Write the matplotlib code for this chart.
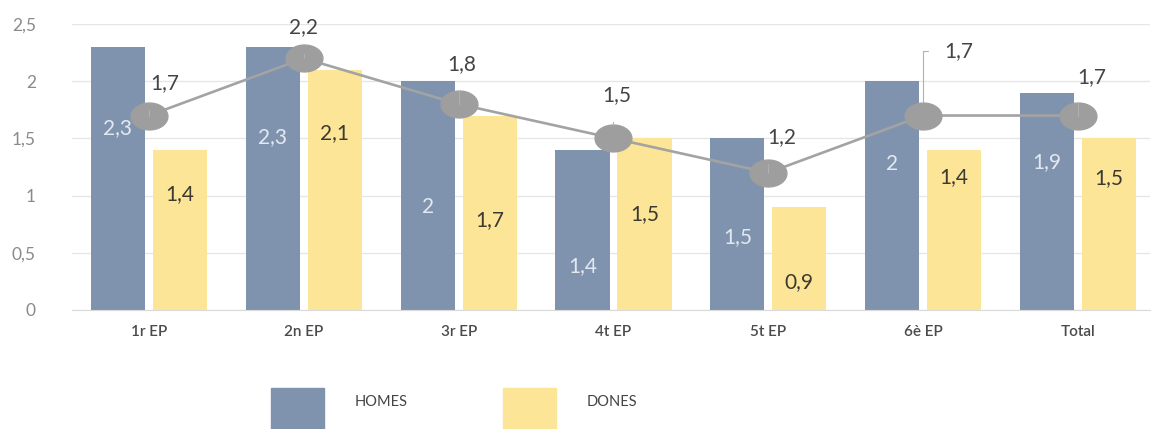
import numpy as np
import matplotlib
matplotlib.use("Agg")
import matplotlib.pyplot as plt
from matplotlib.path import Path
from matplotlib.patches import Rectangle

# data
categories = ["1r EP", "2n EP", "3r EP", "4t EP", "5t EP", "6è EP", "Total"]
homes = [2.3, 2.3, 2.0, 1.4, 1.5, 2.0, 1.9]
dones = [1.4, 2.1, 1.7, 1.5, 0.9, 1.4, 1.5]
mitjana = [1.7, 2.2, 1.8, 1.5, 1.2, 1.7, 1.7]
yticks = [0, 0.5, 1, 1.5, 2, 2.5]

# hand placed label positions (data units), as in the original
homes_lab_y = [1.59, 1.51, 0.90, 0.38, 0.64, 1.28, 1.29]
dones_lab_y = [1.01, 1.55, 0.79, 0.84, 0.24, 1.16, 1.15]
line_lab_dx = [0.10, 0.0, 0.02, 0.02, 0.09, 0.23, 0.09]
line_lab_y = [1.98, 2.47, 2.15, 1.88, 1.51, 2.26, 2.04]

c_homes = "#7F93AE"
c_dones = "#FDE597"
c_line = "#A3A3A3"
font = "Lato"

def fmt(v):
    return f"{v:g}".replace(".", ",")

plt.rcParams["font.family"] = [font, "DejaVu Sans"]

fig = plt.figure(figsize=(11.55, 4.29), dpi=100)
ax = fig.add_axes([72 / 1155, 119 / 429, 1078 / 1155, 286 / 429])

x = np.arange(len(categories))
w = 0.35
ax.bar(x - 0.2, homes, w, color=c_homes, zorder=2)
ax.bar(x + 0.2, dones, w, color=c_dones, zorder=2)

# elliptic marker
t = np.linspace(0, 2 * np.pi, 60)
ell = Path(np.column_stack([1.37 * np.cos(t), np.sin(t)]), closed=True)
ax.plot(x, mitjana, color=c_line, lw=1.9, marker=ell, markersize=26.5,
        markerfacecolor="#9E9E9E", markeredgecolor="#9E9E9E", zorder=4)

for i in range(len(x)):
    ax.text(x[i] - 0.2, homes_lab_y[i], fmt(homes[i]), ha="center", va="center",
            fontsize=15, color="#E4E9F1", zorder=5)
    ax.text(x[i] + 0.2, dones_lab_y[i], fmt(dones[i]), ha="center", va="center",
            fontsize=15, color="#3B3A30", zorder=5)
    ax.annotate(fmt(mitjana[i]), xy=(x[i], mitjana[i]),
                xytext=(x[i] + line_lab_dx[i], line_lab_y[i]),
                ha="center", va="center", fontsize=15, color="#444444",
                zorder=5,
                arrowprops=dict(arrowstyle="-", color="#B0B0B0", lw=0.8,
                                shrinkA=10, shrinkB=10,
                                connectionstyle="angle,angleA=0,angleB=90,rad=0"))

ax.set_xlim(-0.497, 6.465)
ax.set_ylim(0, 2.5)
ax.set_yticks(yticks)
ax.set_yticklabels([fmt(v) for v in yticks], fontsize=12.5, color="#8A8A8A")
ax.set_xticks(x)
ax.set_xticklabels(categories, fontsize=11, color="#4A4A4A", fontweight="semibold")
ax.tick_params(axis="y", length=0, pad=26)
ax.tick_params(axis="x", length=0, pad=11)
ax.grid(axis="y", color="#E6E6E6", lw=1, zorder=0)
ax.set_axisbelow(True)
for s in ["top", "right", "left"]:
    ax.spines[s].set_visible(False)
ax.spines["bottom"].set_color("#DADADA")

# legend drawn by hand
for x0, col, lab in [(271, c_homes, "HOMES"), (503, c_dones, "DONES")]:
    fig.add_artist(Rectangle((x0 / 1155, 0), 53 / 1155, 41 / 429,
                             transform=fig.transFigure, color=col))
    fig.text((x0 + 84) / 1155, 1 - 402 / 429, lab, ha="left", va="center",
             fontsize=10.5, color="#444444")

fig.savefig("out.png", dpi=100)
